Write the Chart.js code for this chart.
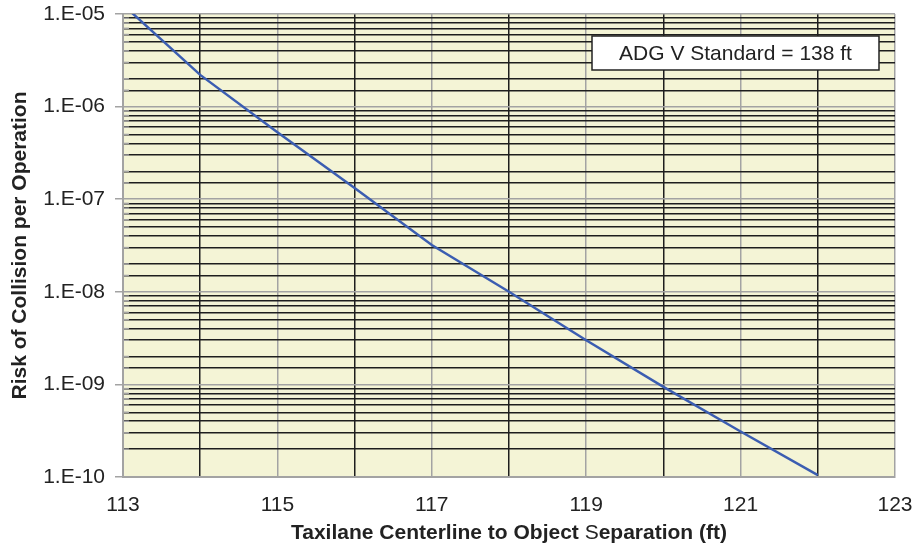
<!DOCTYPE html>
<html>
<head>
<meta charset="utf-8">
<script src="https://cdn.jsdelivr.net/npm/chart.js@4/dist/chart.umd.min.js"></script>
<style>
  html, body { margin: 0; padding: 0; background: #fff; }
  #wrap { width: 917px; height: 550px; }
</style>
</head>
<body>
<div id="wrap"><canvas id="riskChart"></canvas></div>
<script>
// separation (ft) and risk values
const separation = [113, 114, 115, 116, 117, 118, 119, 120, 121, 122];
const risk = [1.26e-5, 2.2e-6, 5.3e-7, 1.32e-7, 3.2e-8, 1.0e-8, 3.0e-9, 9.4e-10, 3.1e-10, 1.05e-10];

const xTitleParts = [
    { text: "Taxilane Centerline to Object ", bold: true },
    { text: "S", bold: false },
    { text: "eparation (ft)", bold: true }
];
const yTitle = "Risk of Collision per Operation";
const noteText = "ADG V Standard = 138 ft";

const GRAY = "#a3a3a3";
const BLACK = "#1e1e1e";
const FONT = "'Liberation Sans', Arial, sans-serif";

function isDecade(v) {
    const l = Math.log10(v);
    return Math.abs(l - Math.round(l)) < 1e-6;
}

function fmtExp(v) {
    const e = Math.round(Math.log10(v));
    return "1.E" + (e < 0 ? "-" : "+") + String(Math.abs(e)).padStart(2, "0");
}

// plot background + extra text
const decorPlugin = {
    id: "decor",
    beforeDraw(chart) {
        const a = chart.chartArea;
        const ctx = chart.ctx;
        ctx.save();
        ctx.fillStyle = "#f4f4d6";
        ctx.fillRect(a.left, a.top, a.right - a.left, a.bottom - a.top);
        ctx.restore();
    },
    afterDraw(chart) {
        const ctx = chart.ctx;
        const a = chart.chartArea;
        const ys = chart.scales.y;
        ctx.save();

        // little gray inner ticks on minor lines
        ctx.strokeStyle = GRAY;
        ctx.lineWidth = 1.5;
        ys.ticks.forEach((t) => {
            if (!isDecade(t.value)) {
                const py = ys.getPixelForValue(t.value);
                ctx.beginPath();
                ctx.moveTo(a.left, py);
                ctx.lineTo(a.left + 6, py);
                ctx.stroke();
            }
        });

        // note box
        const bx = 592, by = 36, bw = 287, bh = 34;
        ctx.fillStyle = "#ffffff";
        ctx.fillRect(bx, by, bw, bh);
        ctx.strokeStyle = "#222";
        ctx.lineWidth = 1.5;
        ctx.strokeRect(bx, by, bw, bh);
        ctx.fillStyle = "#222";
        ctx.font = "21px " + FONT;
        ctx.textAlign = "center";
        ctx.textBaseline = "middle";
        ctx.fillText(noteText, bx + bw / 2, by + bh / 2 + 1);

        // x title with mixed weight
        let total = 0;
        xTitleParts.forEach((p) => {
            ctx.font = (p.bold ? "bold " : "") + "21px " + FONT;
            p.w = ctx.measureText(p.text).width;
            total += p.w;
        });
        let x = (a.left + a.right) / 2 - total / 2;
        ctx.textAlign = "left";
        xTitleParts.forEach((p) => {
            ctx.font = (p.bold ? "bold " : "") + "21px " + FONT;
            ctx.fillText(p.text, x, 533);
            x += p.w;
        });

        // y title
        ctx.translate(20, (a.top + a.bottom) / 2);
        ctx.rotate(-Math.PI / 2);
        ctx.font = "bold 21px " + FONT;
        ctx.textAlign = "center";
        ctx.fillText(yTitle, 0, 0);
        ctx.restore();
    }
};

new Chart(document.getElementById("riskChart"), {
    type: "line",
    data: {
        datasets: [{
            data: separation.map((s, i) => ({ x: s, y: risk[i] })),
            borderColor: "#3b5db1",
            borderWidth: 2.5,
            pointRadius: 0,
            tension: 0,
            fill: false
        }]
    },
    options: {
        responsive: true,
        maintainAspectRatio: false,
        animation: false,
        layout: { padding: { top: 14, right: 22, left: 0, bottom: 0 } },
        plugins: {
            legend: { display: false },
            tooltip: { enabled: false }
        },
        scales: {
            x: {
                type: "linear",
                min: 113,
                max: 123,
                afterFit: (scale) => {
                    scale.height = 73;
                    scale.paddingLeft = 0;
                    scale.paddingRight = 0;
                },
                ticks: {
                    stepSize: 1,
                    autoSkip: false,
                    maxRotation: 0,
                    padding: 16,
                    color: "#222",
                    font: { family: FONT, size: 21 },
                    callback: (v) => (v % 2 === 1 ? String(v) : "")
                },
                grid: {
                    drawTicks: false,
                    lineWidth: 1.5,
                    color: (c) => (c.tick && c.tick.value % 2 === 1 ? GRAY : BLACK)
                },
                border: { color: GRAY, width: 2 }
            },
            y: {
                type: "logarithmic",
                min: 1e-10,
                max: 1e-5,
                afterFit: (scale) => {
                    scale.width = 123;
                    scale.paddingTop = 0;
                    scale.paddingBottom = 0;
                },
                ticks: {
                    autoSkip: false,
                    padding: 10,
                    color: "#222",
                    font: { family: FONT, size: 21 },
                    callback: (v) => (isDecade(v) ? fmtExp(v) : "")
                },
                grid: {
                    tickLength: 8,
                    lineWidth: 1.5,
                    color: (c) => (c.tick && isDecade(c.tick.value) ? GRAY : BLACK),
                    tickColor: (c) => (c.tick && isDecade(c.tick.value) ? GRAY : "rgba(0,0,0,0)")
                },
                border: { color: GRAY, width: 2 }
            }
        }
    },
    plugins: [decorPlugin]
});
</script>
</body>
</html>
